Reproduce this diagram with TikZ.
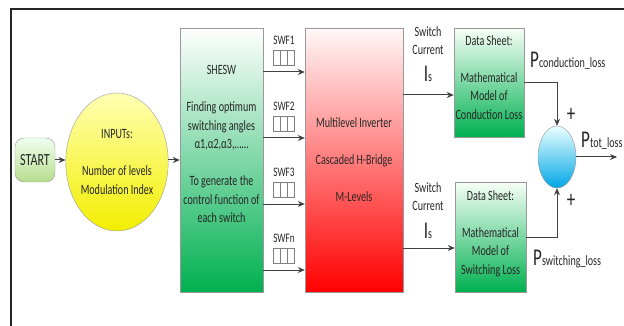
\documentclass[tikz,border=0pt]{standalone}
\usepackage{fontspec}
\setmainfont{Carlito}[FakeStretch=0.71]
\usetikzlibrary{shapes.geometric, arrows.meta}

\definecolor{startbot}{HTML}{B5DE8C}
\definecolor{yellowbot}{HTML}{F2EE00}
\definecolor{greenbot}{HTML}{00B050}
\definecolor{redbot}{HTML}{FF0000}
\definecolor{bluebot}{HTML}{00A6E6}
\definecolor{linegray}{HTML}{404040}

\begin{document}
\begin{tikzpicture}[
  x=1pt, y=-1pt,
  font=\fontsize{14.2}{18.5}\selectfont,
  box/.style={draw=black!40, inner sep=0pt, align=center, text=black!85},
  txt/.style={align=center, inner sep=0pt, text=black!85},
  arrow/.style={-{Stealth[length=7pt, width=6pt]}, line width=1pt, draw=linegray},
  swfbox/.style={draw=black!50, minimum width=21pt, minimum height=15pt, inner sep=0pt},
  bigletter/.style={font=\fontsize{24}{24}\selectfont}
]
\useasboundingbox (0,0) rectangle (624,326);
\begin{scope}
  \clip (0,0) rectangle (624,326);
  \draw[line width=1.5pt, black!85] (11,9) rectangle (640,340);
\end{scope}

\node[box, rounded corners=9pt, minimum width=40pt, minimum height=44pt,
  top color=green!6, bottom color=startbot, font=\fontsize{17}{17}\selectfont] (start) at (35,160) {START};
\node[box, ellipse, minimum width=90pt, minimum height=138pt,
  top color=yellow!30, bottom color=yellowbot] (inputs) at (117,162)
  {INPUTs:\\[18.5pt]Number of levels\\Modulation Index};
\node[box, minimum width=83pt, minimum height=264pt,
  top color=white, bottom color=greenbot] (shesw) at (221.5,160) {};
\node[txt] (sheswtext) at (221.5,144)
  {SHESW\\[18.5pt]Finding optimum\\switching angles\\α1,α2,α3,……\\[18.5pt]To generate the\\control function of\\each switch};
\node[box, minimum width=98pt, minimum height=264pt,
  top color=red!3, bottom color=redbot] (inverter) at (354,160)
  {Multilevel Inverter\\[18.5pt]Cascaded H-Bridge\\[18.5pt]M-Levels};
\node[box, minimum width=70pt, minimum height=109pt,
  top color=green!3, bottom color=greenbot] (condbox) at (489,82.5) {};
\node[txt] (condtext) at (489,77.5) {Data Sheet:\\[18.5pt]Mathematical\\Model of\\Conduction Loss};
\node[box, minimum width=71pt, minimum height=110pt,
  top color=green!3, bottom color=greenbot] (swbox) at (490.5,237) {};
\node[txt] (swtext) at (490.5,233.5) {Data Sheet:\\[18.5pt]Mathematical\\Model of\\Switching Loss};
\node[box, ellipse, minimum width=38pt, minimum height=62pt,
  top color=cyan!8, bottom color=bluebot] (sum) at (557,157) {};

% switching functions
\foreach \n/\yy in {1/72, 2/138, 3/204, n/270} {
  \draw[arrow] (shesw.east |- 0,\yy) -- (inverter.west |- 0,\yy);
  \node[txt, font=\fontsize{13}{13}\selectfont] (swf\n) at (284,\yy-32) {SWF\n};
  \node[swfbox] (swfbox\n) at (284,\yy-14) {};
  \draw[black!50] ([xshift=-3.5pt]swfbox\n.north) -- ([xshift=-3.5pt]swfbox\n.south)
    ([xshift=3.5pt]swfbox\n.north) -- ([xshift=3.5pt]swfbox\n.south);
}

\draw[arrow] (start) -- (start -| inputs.west);
\draw[arrow] (inputs.east |- start) -- (shesw.west |- start);

% switch currents
\coordinate (condin) at ([yshift=-12.5pt]condbox.west);
\coordinate (swin) at ([yshift=-11pt]swbox.west);
\draw[arrow] (inverter.east |- condin) -- (condin);
\draw[arrow] (inverter.east |- swin) -- (swin);
\node[txt] (curtop) at (428,40.5) {Switch\\Current};
\node[txt, anchor=base] (istop) at (428,82) {{\fontsize{24}{24}\selectfont I}s};
\node[txt] (curbot) at (428,196.5) {Switch\\Current};
\node[txt, anchor=base] (isbot) at (428,238) {{\fontsize{24}{24}\selectfont I}s};

% losses
\draw[arrow] (condbox.east) -| (sum.north);
\draw[arrow] (swbox.east) -| (sum.south);
\coordinate (out) at (617,157);
\draw[arrow] (sum) -- (out);
\node[txt, anchor=base west] (pcond) at (530,68) {{\fontsize{24}{24}\selectfont P}conduction\_loss};
\node[txt, anchor=base west] (psw) at (533,265) {{\fontsize{24}{24}\selectfont P}switching\_loss};
\node[txt, anchor=base west] (ptot) at (581,148) {{\fontsize{24}{24}\selectfont P}tot\_loss};
\node[txt, bigletter] (plustop) at (571,115) {+};
\node[txt, bigletter] (plusbot) at (571,201) {+};
\end{tikzpicture}
\end{document}
